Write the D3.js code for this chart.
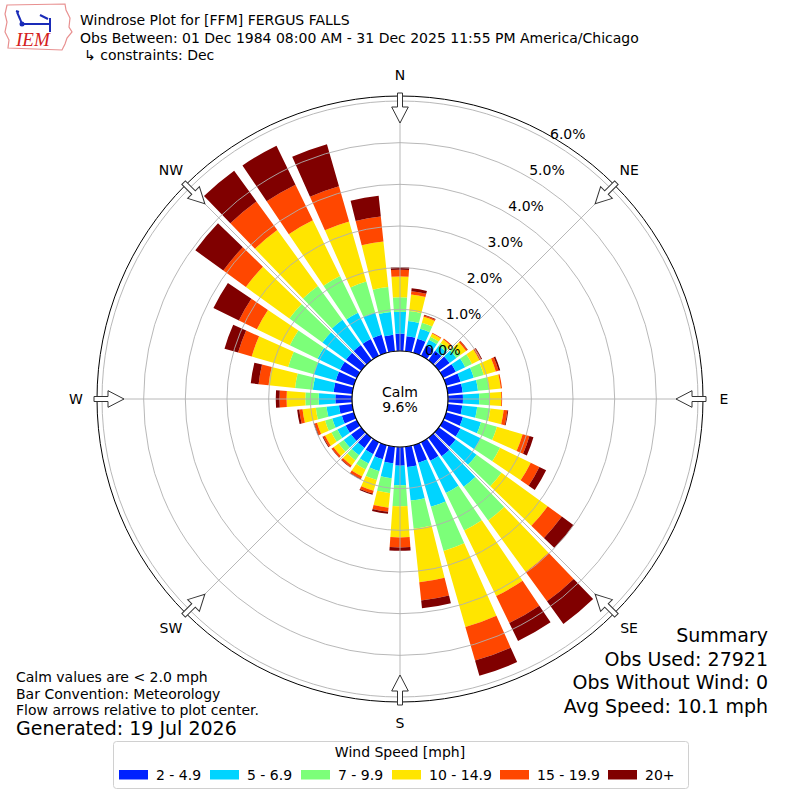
<!DOCTYPE html>
<html>
<head>
<meta charset="utf-8">
<script src="https://cdn.jsdelivr.net/npm/d3@7"></script>
<style>
  body { margin: 0; background: #fff; }
  svg { font-family: "DejaVu Sans", sans-serif; }
</style>
</head>
<body>
<svg id="rose" width="800" height="800"></svg>
<script>
// direction bins (degrees, meteorological "from")
var directions = [0, 10, 20, 30, 40, 50, 60, 70, 80, 90, 100, 110,
                  120, 130, 140, 150, 160, 170, 180, 190, 200, 210, 220, 230,
                  240, 250, 260, 270, 280, 290, 300, 310, 320, 330, 340, 350];

// frequency (%) per speed bin, one value per direction above
var spd2to5   = [.42,.36,.35,.28,.28,.32,.34,.36,.36,.36,.35,.42,
                 .46,.50,.55,.50,.44,.49,.45,.40,.35,.32,.30,.30,
                 .30,.30,.32,.40,.45,.45,.45,.45,.45,.45,.45,.40];
var spd5to7   = [.52,.37,.25,.15,.15,.20,.25,.33,.37,.39,.36,.45,
                 .54,.62,.90,.86,1.10,.81,.47,.36,.30,.25,.22,.22,
                 .22,.24,.30,.40,.50,.55,.60,.70,.75,.70,.56,.55];
var spd7to10  = [.35,.24,.15,.08,.08,.12,.18,.25,.27,.25,.32,.40,
                 .52,.74,1.00,1.00,1.10,.68,.50,.36,.22,.16,.15,.15,
                 .16,.18,.26,.32,.43,.64,.74,.98,1.00,.98,.77,.60];
var spd10to15 = [.50,.40,.15,.09,.10,.17,.20,.30,.28,.28,.32,.64,
                 .82,1.37,1.53,1.75,1.90,1.29,.75,.35,.27,.19,.15,.15,
                 .17,.20,.32,.45,.64,.91,.88,1.29,1.66,1.49,1.50,1.10];
var spd15to20 = [.16,.08,.03,.02,.03,.04,.05,.07,.03,.02,.09,.17,
                 .23,.42,.87,.72,.84,.44,.24,.10,.07,.06,.05,.05,
                 .05,.06,.08,.17,.24,.34,.48,.67,.85,.95,.88,.60];
var spd20up   = [.06,.07,.02,0,0,.01,.02,.04,0,0,.02,.10,
                 .18,.35,.67,.48,.38,.19,.08,.05,.03,.02,.01,.01,
                 .02,.02,.05,.09,.19,.34,.68,.83,.91,1.04,1.05,.50];

var speedBins = ["2 - 4.9", "5 - 6.9", "7 - 9.9", "10 - 14.9", "15 - 19.9", "20+"];
var binColors = ["#0022ff", "#00d4ff", "#7cff79", "#ffe500", "#ff4700", "#800000"];
var ringTicks = [0, 1, 2, 3, 4, 5, 6];
var compass = ["N", "NE", "E", "SE", "S", "SW", "W", "NW"];
var calmPct = "9.6%";

var svg = d3.select("#rose");
var cx = 400, cy = 399;
var r = d3.scaleLinear().domain([0, 6]).range([48, 298]);
var rEdge = 303;
var halfW = 4 * Math.PI / 180;
var rad = function (d) { return d * Math.PI / 180; };

var g = svg.append("g").attr("transform", "translate(" + cx + "," + cy + ")");

// stacked bars
var series = [spd2to5, spd5to7, spd7to10, spd10to15, spd15to20, spd20up];
var arc = d3.arc();
directions.forEach(function (dir, i) {
  var base = 0;
  series.forEach(function (s, k) {
    var v = s[i];
    if (v > 0) {
      g.append("path")
        .attr("d", arc({
          innerRadius: r(base), outerRadius: r(base + v),
          startAngle: rad(dir) - halfW, endAngle: rad(dir) + halfW
        }))
        .attr("fill", binColors[k]);
    }
    base += v;
  });
});

// grid on top of bars
g.selectAll(".ring").data(ringTicks).enter().append("circle")
  .attr("r", function (d) { return r(d); })
  .attr("fill", "none").attr("stroke", "#b0b0b0").attr("stroke-width", 0.9);
g.selectAll(".spoke").data(compass).enter().append("line")
  .attr("x1", 0).attr("y1", 0)
  .attr("x2", function (d, i) { return rEdge * Math.sin(rad(i * 45)); })
  .attr("y2", function (d, i) { return -rEdge * Math.cos(rad(i * 45)); })
  .attr("stroke", "#b0b0b0").attr("stroke-width", 0.9);

// outer spine
g.append("circle").attr("r", rEdge).attr("fill", "none").attr("stroke", "#000").attr("stroke-width", 1);

// calm circle
g.append("circle").attr("r", r(0)).attr("fill", "#fff").attr("stroke", "#000").attr("stroke-width", 1.2);
g.append("text").attr("x", 0).attr("y", -2.5).attr("text-anchor", "middle")
  .attr("font-size", 14).text("Calm");
g.append("text").attr("x", 0).attr("y", 13).attr("text-anchor", "middle")
  .attr("font-size", 14).text(calmPct);

// ring labels along 30 degrees
g.selectAll(".rlab").data(ringTicks).enter().append("text")
  .attr("x", function (d) { return r(d) * Math.sin(rad(30)) + 1; })
  .attr("y", function (d) { return -r(d) * Math.cos(rad(30)) - 2; })
  .attr("font-size", 14)
  .text(function (d) { return d.toFixed(1) + "%"; });

// flow arrows
var arrowPts = [[-2.5, -306], [2.5, -306], [2.5, -292], [8.3, -292], [0, -276], [-8.3, -292], [-2.5, -292]];
compass.forEach(function (c, i) {
  g.append("path")
    .attr("d", d3.line()(arrowPts) + "Z")
    .attr("transform", "rotate(" + (i * 45) + ")")
    .attr("fill", "#fff").attr("stroke", "#333").attr("stroke-width", 1);
  g.append("text")
    .attr("x", 324 * Math.sin(rad(i * 45)))
    .attr("y", -324 * Math.cos(rad(i * 45)) + 5)
    .attr("text-anchor", "middle").attr("font-size", 14)
    .text(c);
});

// header
var hdr = ["Windrose Plot for [FFM] FERGUS FALLS",
           "Obs Between: 01 Dec 1984 08:00 AM - 31 Dec 2025 11:55 PM America/Chicago",
           "\u21b3 constraints: Dec"];
hdr.forEach(function (t, i) {
  svg.append("text").attr("x", i == 2 ? 84 : 80).attr("y", 25 + i * 17.5)
    .attr("font-size", 14).text(t);
});

// IEM logo (rough)
var logo = svg.append("g");
logo.append("path")
  .attr("d", "M7,5 L65,4 L66,10 L70,18 L69,27 L72,32 L67,38 L65,44 L62,50 L8,48 L9,40 L5,32 L7,22 L5,14 Z")
  .attr("fill", "none").attr("stroke", "#e89090").attr("stroke-width", 1.2);
logo.append("path").attr("d", "M20,24 L50,24 M50,18 L50,32 M40,15 L48,19 M17,12 L20,19 L22,24 M16,11 L19,12")
  .attr("stroke", "#1a2bb8").attr("stroke-width", 2).attr("fill", "none");
logo.append("circle").attr("cx", 22).attr("cy", 24).attr("r", 2.5).attr("fill", "#1a2bb8");
logo.append("text").attr("x", 16).attr("y", 46).attr("font-family", "Liberation Serif")
  .attr("font-style", "italic").attr("font-size", 19).attr("fill", "#d42020").text("IEM");

// notes
var notes = ["Calm values are < 2.0 mph", "Bar Convention: Meteorology", "Flow arrows relative to plot center."];
notes.forEach(function (t, i) {
  svg.append("text").attr("x", 16).attr("y", 682 + i * 16.5).attr("font-size", 14).text(t);
});
svg.append("text").attr("x", 16).attr("y", 735).attr("font-size", 19).text("Generated: 19 Jul 2026");

var summary = ["Summary", "Obs Used: 27921", "Obs Without Wind: 0", "Avg Speed: 10.1 mph"];
summary.forEach(function (t, i) {
  svg.append("text").attr("x", 768).attr("y", 642 + i * 23.7).attr("text-anchor", "end")
    .attr("font-size", 19).text(t);
});

// legend
var leg = svg.append("g");
leg.append("rect").attr("x", 113.5).attr("y", 741.5).attr("width", 575).attr("height", 47)
  .attr("rx", 3).attr("fill", "#fff").attr("stroke", "#d0d0d0");
leg.append("text").attr("x", 400).attr("y", 757).attr("text-anchor", "middle")
  .attr("font-size", 14).text("Wind Speed [mph]");
var legX = [119, 210, 301, 392, 500, 608];
speedBins.forEach(function (t, i) {
  leg.append("rect").attr("x", legX[i]).attr("y", 770).attr("width", 29).attr("height", 9.5)
    .attr("fill", binColors[i]);
  leg.append("text").attr("x", legX[i] + 37).attr("y", 780).attr("font-size", 14).text(t);
});
</script>
</body>
</html>
